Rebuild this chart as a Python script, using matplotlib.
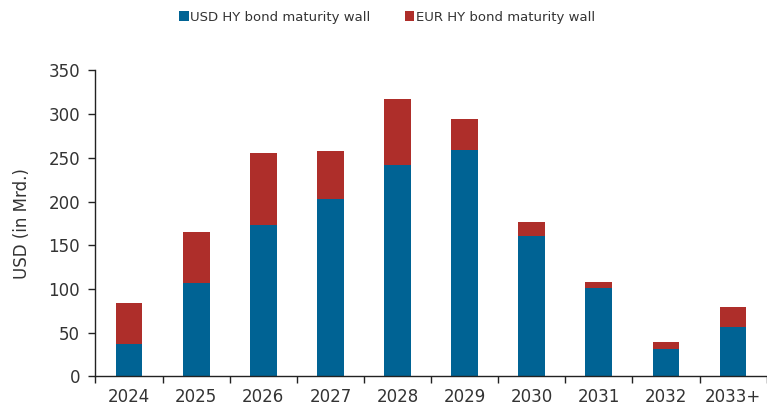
import matplotlib
matplotlib.use("Agg")
import matplotlib.pyplot as plt
from matplotlib.patches import Patch

categories = ["2024", "2025", "2026", "2027", "2028", "2029", "2030", "2031", "2032", "2033+"]
usd = [37, 107, 173, 203, 242, 259, 161, 101, 31, 56]
total = [84, 165, 256, 258, 317, 294, 177, 108, 39, 79]
eur = [t - u for t, u in zip(total, usd)]

blue = "#006394"
red = "#AE2E2A"
txt = "#333333"

fig = plt.figure(figsize=(7.67, 4.09), dpi=100)
ax = fig.add_axes([0.1245, 0.0797, 0.875, 0.748])

x = list(range(len(categories)))
ax.bar(x, usd, width=0.4, color=blue, edgecolor="none", zorder=2)
ax.bar(x, eur, bottom=usd, width=0.4, color=red, edgecolor="none", zorder=2)

ax.set_xlim(-0.5, len(categories) - 0.5)
ax.set_ylim(0, 350)
ax.set_yticks(range(0, 351, 50))
ax.set_xticks([i - 0.5 for i in range(len(categories) + 1)])
ax.set_xticklabels([])
ax.set_xticks(x, minor=True)
ax.set_xticklabels(categories, minor=True)
ax.tick_params(axis="x", which="major", direction="out", length=5, width=1, color="#222222")
ax.tick_params(axis="x", which="minor", length=0, pad=8, labelsize=12, labelcolor=txt)
ax.tick_params(axis="y", direction="out", length=5, width=1, color="#222222", labelsize=12, labelcolor=txt, pad=6)

for s in ["top", "right"]:
    ax.spines[s].set_visible(False)
for s in ["left", "bottom"]:
    ax.spines[s].set_color("#222222")
    ax.spines[s].set_linewidth(1)

ax.set_ylabel("USD (in Mrd.)", fontsize=12, color=txt, labelpad=13)

handles = [Patch(facecolor=blue, label="USD HY bond maturity wall"),
           Patch(facecolor=red, label="EUR HY bond maturity wall")]
fig.legend(handles=handles, loc="center", bbox_to_anchor=(0.505, 0.958), ncol=2, frameon=False,
           fontsize=9.5, handlelength=0.7, handleheight=0.7, handletextpad=0.15, columnspacing=2.6,
           labelcolor=txt)

fig.savefig("out.png", dpi=100)
